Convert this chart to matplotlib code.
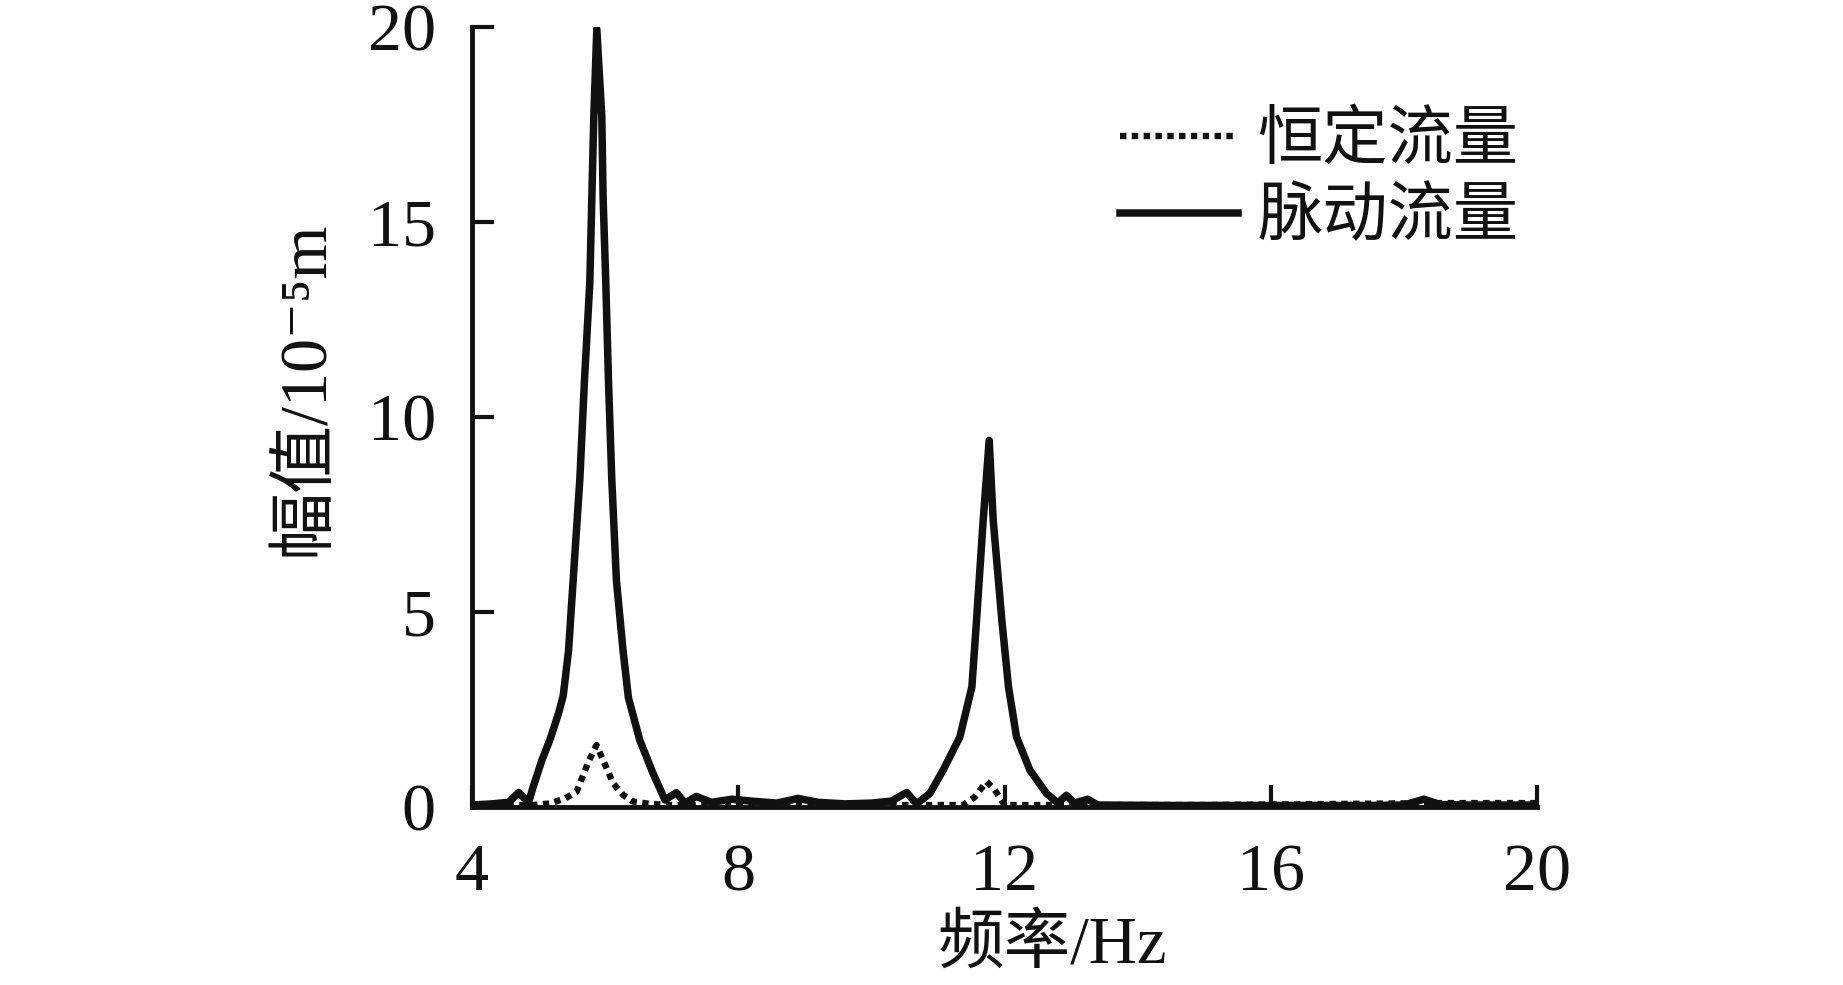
import matplotlib
matplotlib.use("Agg")
import matplotlib.pyplot as plt
from matplotlib.lines import Line2D

# ---- data ----
freq_pulse = [4.0, 4.3, 4.55, 4.70, 4.85, 4.92, 5.05, 5.17, 5.30, 5.37, 5.45, 5.50, 5.55,
              5.62, 5.69, 5.77, 5.80, 5.83, 5.875, 5.95, 5.97, 6.01, 6.05, 6.10, 6.17,
              6.27, 6.35, 6.52, 6.72, 6.90, 7.07, 7.20, 7.37, 7.6, 7.9, 8.2, 8.58, 8.9,
              9.2, 9.6, 10.0, 10.3, 10.53, 10.68, 10.88, 11.08, 11.33, 11.51, 11.58,
              11.68, 11.77, 11.83, 11.96, 12.06, 12.18, 12.38, 12.63, 12.8, 12.93, 13.05,
              13.25, 13.4, 14.5, 16.0, 17.5, 18.0, 18.3, 18.55, 19.0, 20.0]
amp_pulse = [0.05, 0.08, 0.12, 0.37, 0.12, 0.52, 1.2, 1.72, 2.4, 2.85, 4.0, 5.3, 6.6,
             8.4, 10.95, 13.45, 15.6, 17.7, 19.95, 17.7, 15.6, 13.45, 10.95, 8.4, 5.8,
             4.0, 2.8, 1.72, 0.86, 0.18, 0.37, 0.10, 0.27, 0.12, 0.2, 0.15, 0.1, 0.22,
             0.12, 0.08, 0.1, 0.15, 0.37, 0.08, 0.35, 0.95, 1.8, 3.08, 4.79,
             7.36, 9.4, 7.36, 4.79, 3.08, 1.8, 0.95, 0.35, 0.1, 0.3, 0.1,
             0.2, 0.05, 0.04, 0.04, 0.04, 0.05, 0.2, 0.06, 0.05, 0.05]

freq_const = [4.0, 4.9, 5.17, 5.40, 5.57, 5.75, 5.87, 5.97, 6.12, 6.27, 6.42, 6.67, 7.0,
              9.0, 11.0, 11.38, 11.55, 11.73, 11.85, 12.0, 12.3, 15.0, 18.5, 20.0]
amp_const = [0.02, 0.05, 0.09, 0.22, 0.39, 1.16, 1.59, 1.2, 0.61, 0.31, 0.14, 0.08, 0.05,
             0.05, 0.05, 0.05, 0.25, 0.65, 0.45, 0.05, 0.05, 0.05, 0.1, 0.1]

labels = ["恒定流量", "脉动流量"]
xticks = [4, 8, 12, 16, 20]
yticks = [0, 5, 10, 15, 20]

fam = ["Liberation Serif", "Noto Sans CJK SC", "DejaVu Serif"]
plt.rcParams["font.family"] = fam

fig = plt.figure(figsize=(18.43, 9.85), dpi=100)
ax = fig.add_axes([472 / 1843, 1 - 807 / 985, (1537 - 472) / 1843, (807 - 27) / 985])

ax.plot(freq_const, amp_const, color="#111111", lw=4.6, linestyle=(0, (1.0, 0.85)),
        solid_capstyle="butt", dash_capstyle="butt", zorder=3)
ax.plot(freq_pulse, amp_pulse, color="#111111", lw=5.4, solid_joinstyle="round", zorder=4)

ax.set_xlim(4, 20)
ax.set_ylim(0, 20)
ax.set_xticks(xticks)
ax.set_yticks(yticks)
ax.set_xticklabels([str(v) for v in xticks])
ax.set_yticklabels([str(v) for v in yticks])
for s in ["top", "right"]:
    ax.spines[s].set_visible(False)
for s in ["left", "bottom"]:
    ax.spines[s].set_linewidth(3.5)
    ax.spines[s].set_color("#111111")
ax.tick_params(axis="both", direction="in", length=16, width=3, color="#111111",
               labelsize=49, labelcolor="#111111")
ax.tick_params(axis="y", pad=26)
ax.tick_params(axis="x", pad=26)

ax.set_xlabel("频率/Hz", fontsize=48, family=fam, color="#111111", va="center")
ax.xaxis.set_label_coords((1052 - 472) / 1065, -(946 - 807) / 780)
ax.set_ylabel("幅值/10⁻⁵m", fontsize=49, family=fam, color="#111111", va="center")
ax.yaxis.set_label_coords((305 - 472) / 1065, (807 - 388) / 780)

handles = [Line2D([], [], color="#111111", lw=4.6, linestyle=(0, (1.0, 0.85)),
                  dash_capstyle="butt"),
           Line2D([], [], color="#111111", lw=5.4)]
leg = fig.legend(handles, labels, loc="upper left",
                 bbox_to_anchor=(1120 / 1843, 1 - 112 / 985), frameon=False,
                 prop={"family": fam, "size": 47}, handlelength=1.8,
                 handletextpad=0.3, labelspacing=0.25, borderpad=0, borderaxespad=0)
for t in leg.get_texts():
    t.set_color("#111111")

fig.savefig("out.png", dpi=100, facecolor="white")
